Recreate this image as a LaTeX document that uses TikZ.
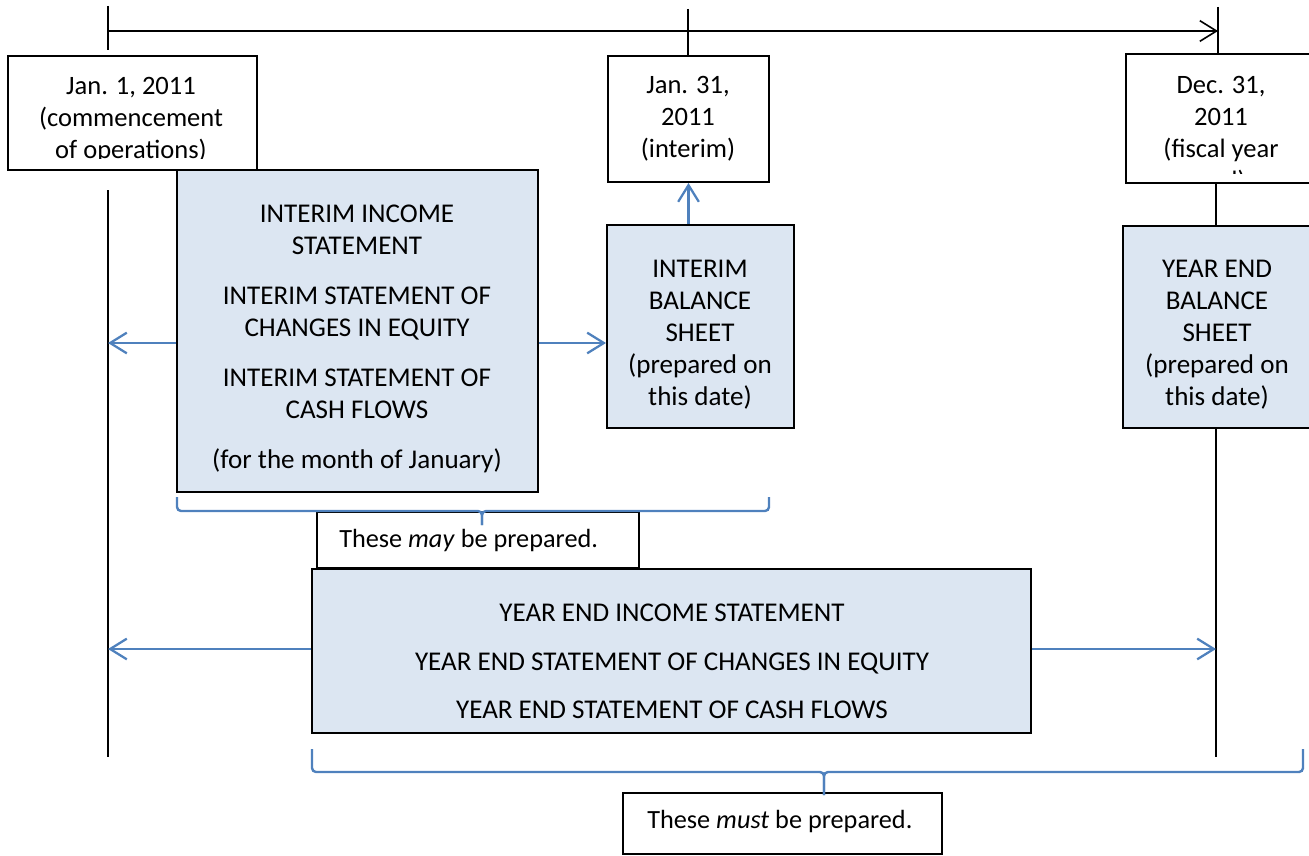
\documentclass[tikz,border=0pt]{standalone}
\usepackage{fontspec}
\setmainfont{Carlito}
\usetikzlibrary{arrows.meta}
\definecolor{lineblue}{HTML}{4F81BD}
\definecolor{boxfill}{HTML}{DCE6F2}
\begin{document}
\begin{tikzpicture}[x=0.75pt,y=-0.75pt,
  plainbox/.style={draw=black, line width=1.5pt, fill=white, inner sep=0pt, rectangle},
  bluebox/.style={plainbox, fill=boxfill},
  txt/.style={inner sep=0pt, align=center, font=\fontsize{19.7}{24}\selectfont},
  datetxt/.style={txt, font=\fontsize{19.9}{24}\selectfont},
  bluetxt/.style={txt, font=\fontsize{20.3}{24}\selectfont},
  axis/.style={draw=black, line width=1.2pt},
  barb/.style={-{Straight Barb[length=12.5pt,width=15.5pt]}},
  bluearrow/.style={draw=lineblue, line width=1.7pt, barb},
  bracepath/.style={draw=lineblue, line width=1.8pt, rounded corners=3pt},
]
\useasboundingbox (0,0) rectangle (1309,856);
\clip (0,0) rectangle (1309,856);

% ---------- timeline ----------
\coordinate (tA) at (108,31);
\coordinate (tB) at (1218,31);
\coordinate (tickAtop) at (108,6);
\coordinate (tickAbot) at (108,50);
\coordinate (tickBtop) at (688,9);
\coordinate (tickBbot) at (688,56);
\coordinate (tickCtop) at (1218,7);
\coordinate (tickCbot) at (1218,54);
\draw[axis, barb] (tA) -- (tB);
\draw[axis] (tickAtop) -- (tickAbot);
\draw[axis] (tickBtop) -- (tickBbot);
\draw[axis] (tickCtop) -- (tickCbot);

% ---------- vertical date lines ----------
\coordinate (leftTop) at (108,190);
\coordinate (leftBot) at (108,757);
\draw[axis] (leftTop) -- (leftBot);

% ---------- boxes ----------
\node[bluebox, minimum width=270.75pt, minimum height=241.5pt] (interim) at (357.5,331) {};
\node[plainbox, minimum width=186.75pt, minimum height=85.5pt] (jan1) at (132,113) {};
\node[plainbox, minimum width=120.75pt, minimum height=94.5pt] (jan31) at (688.5,119) {};
\node[plainbox, minimum width=142.5pt, minimum height=96.75pt] (dec31) at (1221,118.5) {};
\node[bluebox, minimum width=140.25pt, minimum height=152.25pt] (ibal) at (700.5,326.5) {};
\node[bluebox, minimum width=141pt, minimum height=151.5pt] (ybal) at (1217,327) {};
\node[plainbox, minimum width=241.5pt, minimum height=42pt] (may) at (478,540) {};
\node[bluebox, minimum width=539.25pt, minimum height=123pt] (yearend) at (671.5,651) {};
\node[plainbox, minimum width=239.25pt, minimum height=45.75pt] (must) at (782.5,823.5) {};

% right date line
\coordinate (rightBot) at (1216,757);
\draw[axis] (ybal.north -| rightBot) -- (dec31.south -| rightBot);
\draw[axis] (ybal.south -| rightBot) -- (rightBot);

% ---------- texts ----------
\begin{scope}
  \clip (7,56) rectangle (257,158.5);
  \node[datetxt] (jan1t) at (131,119.6) {\strut Jan. 1, 2011\\(commencement\\of operations)\strut};
\end{scope}
\node[datetxt] (jan31t) at (688,118.6) {\strut Jan. 31,\\2011\\(interim)\strut};
\begin{scope}
  \clip (1126,54) rectangle (1320,173.5);
  \node[datetxt] (dec31t) at (1221,135) {\strut Dec. 31,\\2011\\(fiscal year\\end)\strut};
\end{scope}
\node[bluetxt] (interimt) at (357,338.6) {\strut INTERIM INCOME\\STATEMENT\\[13.5pt]INTERIM STATEMENT OF\\CHANGES IN EQUITY\\[13.5pt]INTERIM STATEMENT OF\\CASH FLOWS\\[13.5pt](for the month of January)\strut};
\node[bluetxt] (ibalt) at (700,334.6) {\strut INTERIM\\BALANCE\\SHEET\\(prepared on\\this date)\strut};
\node[bluetxt] (ybalt) at (1217,334.6) {\strut YEAR END\\BALANCE\\SHEET\\(prepared on\\this date)\strut};
\node[bluetxt] (yearendt) at (672,664) {\strut YEAR END INCOME STATEMENT\\[12.4pt]YEAR END STATEMENT OF CHANGES IN EQUITY\\[12.4pt]YEAR END STATEMENT OF CASH FLOWS\strut};
\node[txt, anchor=base west] (mayt) at (339,547) {These \textit{may} be prepared.};
\node[txt, anchor=base west] (mustt) at (647,828) {These \textit{must} be prepared.};

% ---------- blue arrows ----------
\coordinate (L1) at (108,343);
\coordinate (L2) at (108,649);
\draw[bluearrow] (interim.west |- L1) -- (L1);
\draw[bluearrow] (interim.east |- L1) -- (ibal.west |- L1);
\draw[bluearrow] (jan31.south |- ibal.north) -- (jan31.south);
\draw[bluearrow] (yearend.west |- L2) -- (L2);
\draw[bluearrow] (yearend.east |- L2) -- (rightBot |- L2);

% ---------- braces ----------
\coordinate (b1L) at (177,497);
\coordinate (b1R) at (769,497);
\coordinate (b1M) at (482,511);
\coordinate (b1T) at (482,525);
\draw[bracepath] (b1L) |- (b1M) -- (b1T);
\draw[bracepath] (b1R) |- (b1M) -- (b1T);
\coordinate (b2L) at (312,749);
\coordinate (b2R) at (1303,749);
\coordinate (b2M) at (824,772);
\coordinate (b2T) at (824,795);
\draw[bracepath] (b2L) |- (b2M) -- (b2T);
\draw[bracepath] (b2R) |- (b2M) -- (b2T);
\end{tikzpicture}
\end{document}
